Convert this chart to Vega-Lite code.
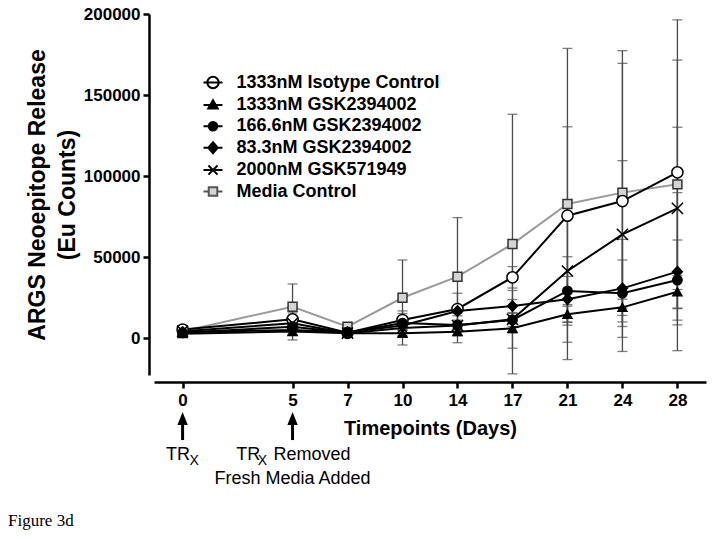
{
  "$schema": "https://vega.github.io/schema/vega-lite/v6.json",
  "width": 552,
  "height": 361,
  "autosize": {"type": "none"},
  "padding": {"left": 154, "top": 14, "right": 8, "bottom": 165},
  "background": "white",
  "config": {"view": {"stroke": null}, "font": "Liberation Sans"},
  "title": {"text": "Figure 3d", "orient": "bottom", "anchor": "start", "frame": "group", "font": "Liberation Serif", "fontSize": 17, "fontWeight": "normal", "color": "black", "dx": -146, "offset": 25},
  "resolve": {"scale": {"shape": "independent", "fill": "independent", "stroke": "independent"}},
  "datasets": {
    "main": [
      {"series": "Media Control", "day": 0, "mean": 4500, "sd": 2500},
      {"series": "Media Control", "day": 5, "mean": 19600, "sd": 14000},
      {"series": "Media Control", "day": 7, "mean": 7300, "sd": 2500},
      {"series": "Media Control", "day": 10, "mean": 25100, "sd": 23300},
      {"series": "Media Control", "day": 14, "mean": 38100, "sd": 36400},
      {"series": "Media Control", "day": 17, "mean": 58200, "sd": 80000},
      {"series": "Media Control", "day": 21, "mean": 82900, "sd": 95900},
      {"series": "Media Control", "day": 24, "mean": 89900, "sd": 79700},
      {"series": "Media Control", "day": 28, "mean": 95000, "sd": 76600},
      {"series": "1333nM Isotype Control", "day": 0, "mean": 5500, "sd": 2000},
      {"series": "1333nM Isotype Control", "day": 5, "mean": 11800, "sd": 4000},
      {"series": "1333nM Isotype Control", "day": 7, "mean": 3500, "sd": 1500},
      {"series": "1333nM Isotype Control", "day": 10, "mean": 11400, "sd": 4000},
      {"series": "1333nM Isotype Control", "day": 14, "mean": 18200, "sd": 9700},
      {"series": "1333nM Isotype Control", "day": 17, "mean": 37700, "sd": 6600},
      {"series": "1333nM Isotype Control", "day": 21, "mean": 75700, "sd": 54800},
      {"series": "1333nM Isotype Control", "day": 24, "mean": 84700, "sd": 92700},
      {"series": "1333nM Isotype Control", "day": 28, "mean": 102400, "sd": 94000},
      {"series": "1333nM GSK2394002", "day": 0, "mean": 3000, "sd": 1000},
      {"series": "1333nM GSK2394002", "day": 5, "mean": 4300, "sd": 2000},
      {"series": "1333nM GSK2394002", "day": 7, "mean": 3200, "sd": 1000},
      {"series": "1333nM GSK2394002", "day": 10, "mean": 3200, "sd": 2000},
      {"series": "1333nM GSK2394002", "day": 14, "mean": 4200, "sd": 2000},
      {"series": "1333nM GSK2394002", "day": 17, "mean": 6300, "sd": 3000},
      {"series": "1333nM GSK2394002", "day": 21, "mean": 14900, "sd": 5000},
      {"series": "1333nM GSK2394002", "day": 24, "mean": 19200, "sd": 5000},
      {"series": "1333nM GSK2394002", "day": 28, "mean": 28800, "sd": 10000},
      {"series": "166.6nM GSK2394002", "day": 0, "mean": 3500, "sd": 1500},
      {"series": "166.6nM GSK2394002", "day": 5, "mean": 7300, "sd": 3000},
      {"series": "166.6nM GSK2394002", "day": 7, "mean": 3500, "sd": 1500},
      {"series": "166.6nM GSK2394002", "day": 10, "mean": 9500, "sd": 4000},
      {"series": "166.6nM GSK2394002", "day": 14, "mean": 8300, "sd": 3000},
      {"series": "166.6nM GSK2394002", "day": 17, "mean": 11400, "sd": 4000},
      {"series": "166.6nM GSK2394002", "day": 21, "mean": 29300, "sd": 21100},
      {"series": "166.6nM GSK2394002", "day": 24, "mean": 27900, "sd": 20500},
      {"series": "166.6nM GSK2394002", "day": 28, "mean": 36000, "sd": 24700},
      {"series": "83.3nM GSK2394002", "day": 0, "mean": 4000, "sd": 1500},
      {"series": "83.3nM GSK2394002", "day": 5, "mean": 5200, "sd": 3000},
      {"series": "83.3nM GSK2394002", "day": 7, "mean": 3800, "sd": 1500},
      {"series": "83.3nM GSK2394002", "day": 10, "mean": 8000, "sd": 3000},
      {"series": "83.3nM GSK2394002", "day": 14, "mean": 17000, "sd": 3000},
      {"series": "83.3nM GSK2394002", "day": 17, "mean": 20000, "sd": 4000},
      {"series": "83.3nM GSK2394002", "day": 21, "mean": 24200, "sd": 14000},
      {"series": "83.3nM GSK2394002", "day": 24, "mean": 30900, "sd": 30200},
      {"series": "83.3nM GSK2394002", "day": 28, "mean": 41200, "sd": 48700},
      {"series": "2000nM GSK571949", "day": 0, "mean": 4500, "sd": 2000},
      {"series": "2000nM GSK571949", "day": 5, "mean": 9400, "sd": 10300},
      {"series": "2000nM GSK571949", "day": 7, "mean": 3300, "sd": 1500},
      {"series": "2000nM GSK571949", "day": 10, "mean": 6500, "sd": 10500},
      {"series": "2000nM GSK571949", "day": 14, "mean": 8000, "sd": 10600},
      {"series": "2000nM GSK571949", "day": 17, "mean": 11800, "sd": 17800},
      {"series": "2000nM GSK571949", "day": 21, "mean": 41600, "sd": 43900},
      {"series": "2000nM GSK571949", "day": 24, "mean": 64200, "sd": 45400},
      {"series": "2000nM GSK571949", "day": 28, "mean": 80200, "sd": 50000}
    ]
  },
  "layer": [
    {
      "data": {"name": "main"},
      "mark": {"type": "errorbar", "ticks": {"size": 10}, "color": "#4a4a4a", "thickness": 1.3},
      "encoding": {
        "x": {
          "field": "day", "type": "ordinal",
          "scale": {"type": "point", "domain": [0, 2, 5, 7, 10, 14, 17, 21, 24, 28], "padding": 0.52},
          "axis": {
            "title": "Timepoints (Days)", "titleFont": "Liberation Sans", "titleFontSize": 20, "titleFontWeight": "bold", "titleColor": "black", "titlePadding": 10,
            "values": [0, 5, 7, 10, 14, 17, 21, 24, 28], "labelAngle": 0,
            "labelFont": "Liberation Sans", "labelFontSize": 17, "labelFontWeight": "bold", "labelColor": "black", "labelPadding": 4,
            "tickSize": 6, "tickWidth": 2.5, "tickColor": "black", "domainColor": "black", "domainWidth": 2.5, "offset": 7, "grid": false
          }
        },
        "y": {
          "field": "mean", "type": "quantitative",
          "scale": {"domain": [-22500, 200000], "nice": false, "zero": false},
          "axis": {
            "title": ["ARGS Neoepitope Release", "(Eu Counts)"], "titleFont": "Liberation Sans", "titleFontSize": 23, "titleFontWeight": "bold", "titleColor": "black", "titleLineHeight": 30, "titlePadding": 4,
            "values": [0, 50000, 100000, 150000, 200000], "format": "d",
            "labelFont": "Liberation Sans", "labelFontSize": 17, "labelFontWeight": "bold", "labelColor": "black", "labelPadding": 3,
            "tickSize": 6, "tickWidth": 2.5, "tickColor": "black", "domainColor": "black", "domainWidth": 2.5, "offset": 5, "grid": false
          }
        },
        "yError": {"field": "sd"}
      }
    },
    {
      "data": {"name": "main"},
      "mark": {"type": "line", "strokeWidth": 2},
      "encoding": {
        "x": {"field": "day", "type": "ordinal"},
        "y": {"field": "mean", "type": "quantitative"},
        "detail": {"field": "series", "type": "nominal"},
        "color": {"condition": {"test": "datum.series == 'Media Control'", "value": "#9a9a9a"}, "value": "black"}
      }
    },
    {
      "data": {"name": "main"},
      "mark": {"type": "point", "size": 80, "strokeWidth": 1.5, "opacity": 1},
      "encoding": {
        "x": {"field": "day", "type": "ordinal"},
        "y": {"field": "mean", "type": "quantitative"},
        "shape": {
          "field": "series", "type": "nominal", "legend": null,
          "scale": {"domain": ["1333nM Isotype Control", "1333nM GSK2394002", "166.6nM GSK2394002", "83.3nM GSK2394002", "2000nM GSK571949", "Media Control"], "range": ["M1.25,0A1.25,1.25,0,1,1,-1.25,0A1.25,1.25,0,1,1,1.25,0Z", "triangle-up", "M1.05,0A1.05,1.05,0,1,1,-1.05,0A1.05,1.05,0,1,1,1.05,0Z", "M0,-1.15L1.1,0L0,1.15L-1.1,0Z", "M-1.25,-1.25L1.25,1.25M-1.25,1.25L1.25,-1.25", "square"]}
        },
        "fill": {"condition": [{"test": "datum.series == '1333nM Isotype Control'", "value": "white"}, {"test": "datum.series == 'Media Control'", "value": "#d4d4d4"}], "value": "black"},
        "stroke": {"condition": {"test": "datum.series == 'Media Control'", "value": "#333333"}, "value": "black"}
      }
    },
    {
      "data": {"name": "main"},
      "mark": {"type": "point", "size": 80, "strokeWidth": 2, "opacity": 0},
      "encoding": {
        "x": {"field": "day", "type": "ordinal"},
        "y": {"field": "mean", "type": "quantitative"},
        "shape": {
          "field": "series", "type": "nominal",
          "scale": {"domain": ["1333nM Isotype Control", "1333nM GSK2394002", "166.6nM GSK2394002", "83.3nM GSK2394002", "2000nM GSK571949", "Media Control"], "range": ["M-1,0L1,0M0.6,0A0.6,0.6,0,1,1,-0.6,0A0.6,0.6,0,1,1,0.6,0", "M-1,0L1,0M0,-0.5L0.5,0.38L-0.5,0.38Z", "M-1,0L1,0M0.45,0A0.45,0.45,0,1,1,-0.45,0A0.45,0.45,0,1,1,0.45,0", "M-1,0L1,0M0,-0.58L0.5,0L0,0.58L-0.5,0Z", "M-1,0L1,0M-0.48,-0.48L0.48,0.48M-0.48,0.48L0.48,-0.48", "M-1,0L-0.45,0M0.45,0L1,0M-0.45,-0.45L0.45,-0.45L0.45,0.45L-0.45,0.45Z"]},
          "legend": {
            "orient": "none", "legendX": 48.5, "legendY": 58, "title": null, "padding": 0,
            "labelFont": "Liberation Sans", "labelFontSize": 18, "labelFontWeight": "bold", "labelColor": "black", "labelLimit": 500,
            "symbolSize": 361, "symbolStrokeWidth": 2, "symbolOpacity": 1, "labelOffset": 13, "rowPadding": 1.4
          }
        },
        "fill": {
          "field": "series", "type": "nominal",
          "scale": {"domain": ["1333nM Isotype Control", "1333nM GSK2394002", "166.6nM GSK2394002", "83.3nM GSK2394002", "2000nM GSK571949", "Media Control"], "range": ["white", "black", "black", "black", "black", "#d4d4d4"]}
        },
        "stroke": {
          "field": "series", "type": "nominal",
          "scale": {"domain": ["1333nM Isotype Control", "1333nM GSK2394002", "166.6nM GSK2394002", "83.3nM GSK2394002", "2000nM GSK571949", "Media Control"], "range": ["black", "black", "black", "black", "black", "#555555"]}
        }
      }
    },
    {
      "data": {"values": [{"day": 0}, {"day": 5}]},
      "mark": {"type": "point", "shape": "M0,-1L0.8,1L-0.8,1Z", "size": 169, "filled": true, "color": "black", "opacity": 1},
      "encoding": {"x": {"field": "day", "type": "ordinal"}, "y": {"datum": -49300}}
    },
    {
      "data": {"values": [{"day": 0}, {"day": 5}]},
      "mark": {"type": "rule", "strokeWidth": 3, "color": "black"},
      "encoding": {"x": {"field": "day", "type": "ordinal"}, "y": {"datum": -52000}, "y2": {"datum": -62600}}
    },
    {
      "data": {"values": [{"day": 0, "t": "TR"}]},
      "mark": {"type": "text", "align": "left", "baseline": "alphabetic", "dx": -16.5, "fontSize": 18, "font": "Liberation Sans", "color": "black"},
      "encoding": {"x": {"field": "day", "type": "ordinal"}, "y": {"datum": -74900}, "text": {"field": "t"}}
    },
    {
      "data": {"values": [{"day": 0, "t": "X"}]},
      "mark": {"type": "text", "align": "left", "baseline": "alphabetic", "dx": 7, "dy": 4.5, "fontSize": 14, "font": "Liberation Sans", "color": "black"},
      "encoding": {"x": {"field": "day", "type": "ordinal"}, "y": {"datum": -74900}, "text": {"field": "t"}}
    },
    {
      "data": {"values": [{"day": 5, "t": "TR"}]},
      "mark": {"type": "text", "align": "left", "baseline": "alphabetic", "dx": -56.4, "fontSize": 18, "font": "Liberation Sans", "color": "black"},
      "encoding": {"x": {"field": "day", "type": "ordinal"}, "y": {"datum": -74900}, "text": {"field": "t"}}
    },
    {
      "data": {"values": [{"day": 5, "t": "X"}]},
      "mark": {"type": "text", "align": "left", "baseline": "alphabetic", "dx": -34.7, "dy": 4.5, "fontSize": 14, "font": "Liberation Sans", "color": "black"},
      "encoding": {"x": {"field": "day", "type": "ordinal"}, "y": {"datum": -74900}, "text": {"field": "t"}}
    },
    {
      "data": {"values": [{"day": 5, "t": "Removed"}]},
      "mark": {"type": "text", "align": "left", "baseline": "alphabetic", "dx": -19, "fontSize": 18, "font": "Liberation Sans", "color": "black"},
      "encoding": {"x": {"field": "day", "type": "ordinal"}, "y": {"datum": -74900}, "text": {"field": "t"}}
    },
    {
      "data": {"values": [{"day": 5, "t": "Fresh Media Added"}]},
      "mark": {"type": "text", "align": "center", "baseline": "alphabetic", "fontSize": 18, "font": "Liberation Sans", "color": "black"},
      "encoding": {"x": {"field": "day", "type": "ordinal"}, "y": {"datum": -89700}, "text": {"field": "t"}}
    }
  ]
}
